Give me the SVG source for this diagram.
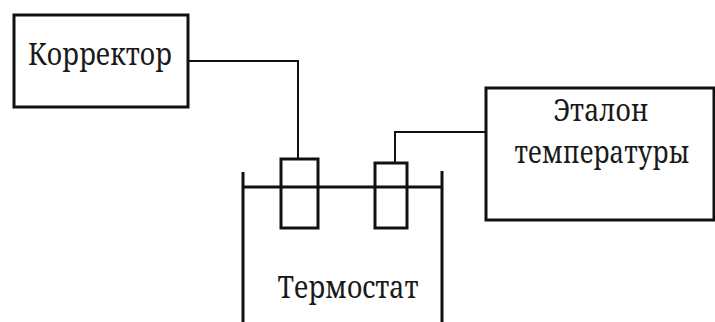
<svg xmlns="http://www.w3.org/2000/svg" width="715" height="322" viewBox="0 0 715 322">
<style>
.box{fill:none;stroke:#111;stroke-width:3}
.wire{fill:none;stroke:#111;stroke-width:2}
.lbl{font-family:"Noto Serif","DejaVu Serif",serif;font-size:30px;fill:#1a1a1a;text-anchor:middle}
</style>
<rect width="715" height="322" fill="#fff"/>
<g id="corrector">
<rect class="box" x="14" y="15" width="174" height="92"/>
<text class="lbl" x="100" y="65" textLength="144" lengthAdjust="spacingAndGlyphs">Корректор</text>
</g>
<g id="etalon">
<rect class="box" x="486" y="88" width="228" height="132"/>
<text class="lbl" x="601" y="121" textLength="95" lengthAdjust="spacingAndGlyphs">Эталон</text>
<text class="lbl" x="602" y="163" textLength="175" lengthAdjust="spacingAndGlyphs">температуры</text>
</g>
<g id="thermostat">
<path class="box" d="M243 172 V323 M442 171 V323 M243 187 H442"/>
<rect class="box" x="281" y="159" width="37" height="69"/>
<rect class="box" x="375" y="163" width="32" height="65"/>
<text class="lbl" x="348" y="298" textLength="141" lengthAdjust="spacingAndGlyphs">Термостат</text>
</g>
<g id="connectors">
<path class="wire" d="M188 61 H298 V159"/>
<path class="wire" d="M486 132 H395 V163"/>
</g>
</svg>
